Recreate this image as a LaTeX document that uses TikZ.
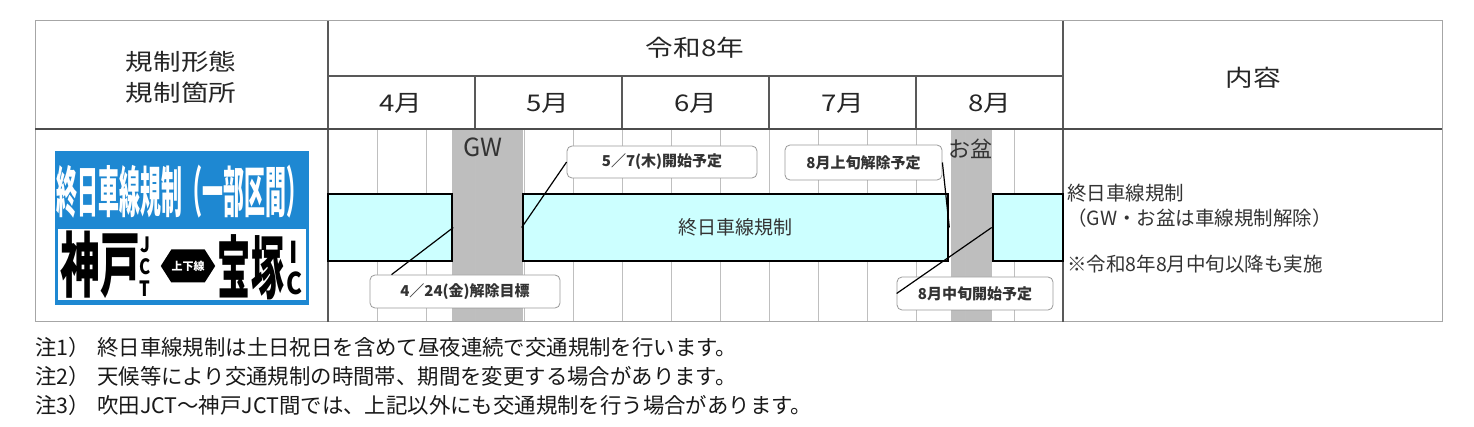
\documentclass[tikz,border=0pt]{standalone}
\usepackage{fontspec}
\setmainfont{Noto Sans CJK JP}
\usetikzlibrary{shapes.arrows,calc}

\definecolor{barcyan}{HTML}{CCFFFF}
\definecolor{signblue}{HTML}{1E88D2}
\definecolor{bandgray}{HTML}{BEBEBE}
\definecolor{textgray}{HTML}{333333}

\begin{document}
\begin{tikzpicture}[
        x=1pt, y=-1pt,
        mainline/.style={draw=black!65, line width=1.1pt},
        subline/.style={draw=black!25, line width=0.9pt},
        frame/.style={draw=black!35, line width=1pt},
        head/.style={font=\fontsize{23}{31}\selectfont, text=black!85, xscale=1.2, align=center},
        bar/.style={draw=black, line width=2.6pt, fill=barcyan, inner sep=0pt, minimum height=67},
        callout/.style={draw=black!40, line width=0.8pt, fill=white, rounded corners=5pt, minimum height=33,
            font=\fontsize{15}{15}\selectfont\bfseries, text=textgray},
        callline/.style={draw=black, line width=1.2pt},
        content/.style={anchor=west, inner sep=0pt, font=\fontsize{19.5}{19.5}\selectfont, text=textgray},
        note/.style={anchor=west, inner sep=0pt, font=\fontsize{21.4}{21.4}\selectfont, text=black!90},
        letter/.style={inner sep=0pt, font=\fontsize{21}{21}\selectfont\bfseries, xscale=0.8},
        bigletter/.style={inner sep=0pt, font=\fontsize{30}{30}\selectfont\bfseries, xscale=0.8}
    ]
        \useasboundingbox[fill=white] (0,0) rectangle (1474,427);

        % Holiday bands
        \fill[bandgray] (452,130) rectangle (523,322);
        \fill[bandgray] (951,130) rectangle (992,322);

        % Grid of thirds
        \foreach \m in {328,475,622,769,916} {
            \draw[subline] (\m+49,130) -- (\m+49,322);
            \draw[subline] (\m+98,130) -- (\m+98,322);
        }
        \foreach \m in {475,622,769,916}
            \draw[subline] (\m,130) -- (\m,322);

        % Table frame
        \draw[frame] (35,21) rectangle (1442,322);
        \draw[mainline] (328,21) -- (328,322);
        \draw[mainline] (1063,21) -- (1063,322);
        \draw[mainline] (328,76) -- (1063,76);
        \foreach \m in {475,622,769,916}
            \draw[mainline] (\m,76) -- (\m,129);
        \draw[draw=black!70, line width=2pt] (35,129.5) -- (1442,129.5);

        % Header texts
        \node[head] (kind) at (181,77) {規制形態\\規制箇所};
        \node[head] (year) at (695,48) {令和8年};
        \node[head] (apr) at (401,103) {4月};
        \node[head] (may) at (548,103) {5月};
        \node[head] (jun) at (696,103) {6月};
        \node[head] (jul) at (843,103) {7月};
        \node[head] (aug) at (990,103) {8月};
        \node[head] (desc) at (1253,78) {内容};

        % Holiday labels
        \node[font=\fontsize{25}{25}\selectfont, text=textgray] (gw) at (483,147) {GW};
        \node[font=\fontsize{22}{22}\selectfont, text=textgray] (obon) at (970,149) {お盆};

        % Restriction bars
        \node[bar, minimum width=124] (bar1) at (390,227.5) {};
        \node[bar, minimum width=425, font=\fontsize{19}{19}\selectfont, text=textgray] (bar2) at (735.5,227.5) {終日車線規制};
        \node[bar, minimum width=70] (bar3) at (1028,227.5) {};

        % Callouts
        \node[callout, minimum width=190] (c1) at (465,291.5) {4／24(金)解除目標};
        \node[callout, minimum width=190, minimum height=32] (c2) at (662,162) {5／7(木)開始予定};
        \node[callout, minimum width=157, minimum height=35] (c3) at (863.5,162.5) {8月上旬解除予定};
        \node[callout, minimum width=156] (c4) at (975,293.5) {8月中旬開始予定};

        \draw[callline] ($(c1.north west)!0.115!(c1.north east)$) -- (bar1.east);
        \draw[callline] (c2.west) -- (bar2.west);
        \draw[callline] (c3.east) -- (bar2.east);
        \draw[callline] (c4.west) -- (bar3.west);

        % Sign
        \fill[signblue] (55,151) rectangle (309,305);
        \fill[white] (58,229) rectangle (306,300);
        \node[font=\fontsize{55}{55}\selectfont\bfseries, text=white, xscale=0.38] (title) at (182,192) {終日車線規制（一部区間）};
        \node[font=\fontsize{71}{71}\selectfont\bfseries, xscale=0.56] (kobe) at (100,265) {神戸};
        \node[letter] (j) at (145,245) {J};
        \node[letter] (c) at (145,267) {C};
        \node[letter] (t) at (145,289) {T};
        \node[double arrow, fill=black, minimum height=51, minimum width=33, inner sep=0pt,
            double arrow head extend=0pt, double arrow tip angle=115,
            font=\fontsize{11}{11}\selectfont\bfseries, text=white] (both) at (188,266) {上下線};
        \node[font=\fontsize{69}{69}\selectfont\bfseries, xscale=0.48] (takara) at (251,267) {宝塚};
        \node[bigletter] (i) at (294,252) {I};
        \node[bigletter] (c2sign) at (294,283) {C};

        % Contents
        \node[content] (line1) at (1067,193) {終日車線規制};
        \node[content] (line2) at (1067,218) {（GW・お盆は車線規制解除）};
        \node[content] (line3) at (1067,264) {※令和8年8月中旬以降も実施};

        % Notes
        \node[note] (n1) at (35,347) {注1）};
        \node[note] (t1) at (97,347) {終日車線規制は土日祝日を含めて昼夜連続で交通規制を行います。};
        \node[note] (n2) at (35,376) {注2）};
        \node[note] (t2) at (97,376) {天候等により交通規制の時間帯、期間を変更する場合があります。};
        \node[note] (n3) at (35,405) {注3）};
        \node[note] (t3) at (97,405) {吹田JCT～神戸JCT間では、上記以外にも交通規制を行う場合があります。};
    \end{tikzpicture}
\end{document}
